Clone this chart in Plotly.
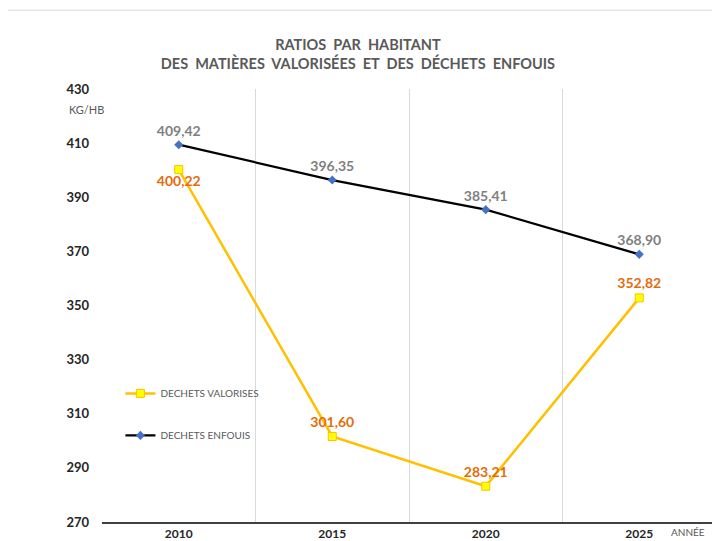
import plotly.graph_objects as go

years = ["2010", "2015", "2020", "2025"]
valorises = [400.22, 301.60, 283.21, 352.82]
enfouis = [409.42, 396.35, 385.41, 368.90]
y_ticks = [270, 290, 310, 330, 350, 370, 390, 410, 430]

FONT = "Lato, 'Open Sans', sans-serif"

fig = go.Figure()

fig.add_trace(go.Scatter(
    x=years, y=valorises, name="DECHETS VALORISES", mode="lines+markers+text",
    line=dict(color="#FFC000", width=2.5),
    marker=dict(symbol="square", size=8, color="#FFFF00", line=dict(color="#FFC000", width=1)),
    texttemplate="%{y:.2f}",
    textposition=["bottom center", "top center", "top center", "top center"],
    textfont=dict(family=FONT, size=14, color="#E46C0A", weight="bold"),
    legend="legend",
))
fig.add_trace(go.Scatter(
    x=years, y=enfouis, name="DECHETS ENFOUIS", mode="lines+markers+text",
    line=dict(color="#000000", width=2.2),
    marker=dict(symbol="diamond", size=7, color="#4472C4"),
    texttemplate="%{y:.2f}",
    textposition="top center",
    textfont=dict(family=FONT, size=14, color="#7F7F7F", weight="bold"),
    legend="legend2",
))

# the page body adds an 8px offset; margins compensate for it
fig.update_layout(
    width=720, height=541,
    margin=dict(l=94, r=12, t=81, b=27),
    paper_bgcolor="white", plot_bgcolor="white",
    separators=", ",
    font=dict(family=FONT, color="#595959"),
    title=dict(
        text="RATIOS  PAR  HABITANT<br>DES  MATIÈRES  VALORISÉES  ET  DES  DÉCHETS  ENFOUIS",
        x=0.486, xanchor="center", y=0.923, yanchor="middle",
        font=dict(family=FONT, size=14.5, color="#595959", weight="bold"),
    ),
    xaxis=dict(
        type="category", range=[-0.5, 3.5], automargin=False,
        tickson="boundaries", showgrid=True, gridcolor="#D9D9D9", gridwidth=1,
        showline=True, linecolor="#404040", linewidth=2,
        ticks="",
        tickfont=dict(family=FONT, size=12, color="#262626", weight="bold"),
        zeroline=False,
    ),
    yaxis=dict(
        range=[270, 430], tickvals=y_ticks, showgrid=False, zeroline=False,
        showline=False, ticks="", ticklabelstandoff=12, automargin=False,
        tickfont=dict(family=FONT, size=13, color="#262626", weight="bold"),
    ),
    legend=dict(
        x=0.03, y=0.297, xanchor="left", yanchor="middle",
        font=dict(family=FONT, size=10, color="#595959"),
        bgcolor="rgba(0,0,0,0)", itemwidth=30,
    ),
    legend2=dict(
        x=0.03, y=0.2, xanchor="left", yanchor="middle",
        font=dict(family=FONT, size=10, color="#595959"),
        bgcolor="rgba(0,0,0,0)", itemwidth=30,
    ),
    showlegend=True,
    annotations=[
        dict(text="KG/HB", xref="paper", yref="paper", x=-0.025, y=0.952,
             xanchor="center", yanchor="middle", showarrow=False,
             font=dict(family=FONT, size=11, color="#595959")),
        dict(text="ANNÉE", xref="paper", yref="paper", x=0.954, y=-0.022,
             xanchor="center", yanchor="middle", showarrow=False,
             font=dict(family=FONT, size=10, color="#595959")),
    ],
    shapes=[
        dict(type="line", xref="paper", yref="paper", x0=-0.2, x1=1.03,
             y0=1.182, y1=1.182, line=dict(color="#D9D9D9", width=1)),
    ],
)

fig.write_html("out.html")
